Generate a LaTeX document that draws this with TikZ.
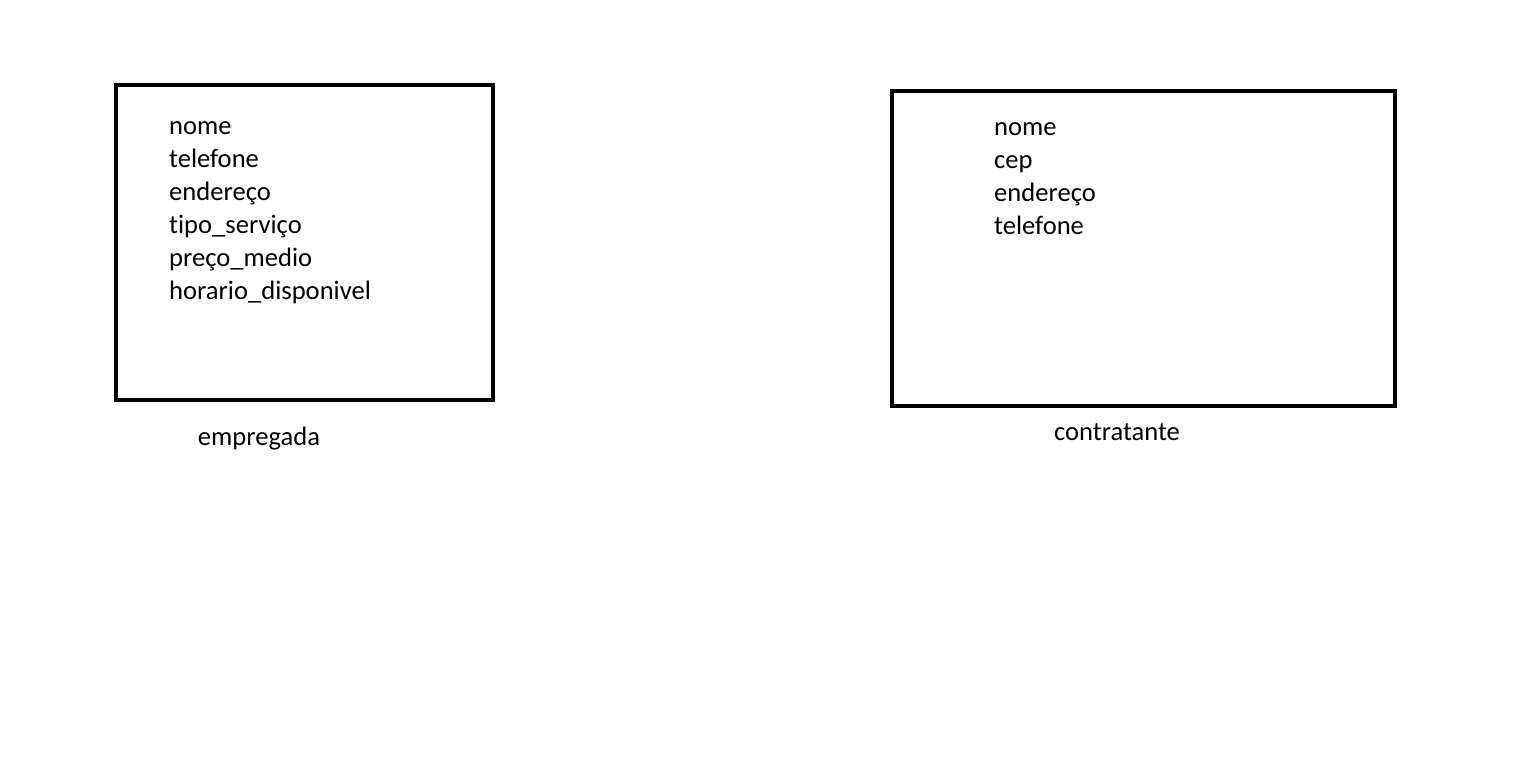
\documentclass[tikz,border=0pt]{standalone}
\usepackage{fontspec}
\setmainfont[Ligatures={NoCommon}]{Carlito}
\begin{document}
\begin{tikzpicture}[x=1pt,y=-1pt,
  box/.style={draw=black,line width=4.2pt},
  attr/.style={anchor=base west,inner sep=0pt,font=\fontsize{26.6}{32}\selectfont},
  lbl/.style={anchor=base,inner sep=0pt,font=\fontsize{26.6}{32}\selectfont}]
\useasboundingbox[fill=white] (0,0) rectangle (1535,758);
\draw[box] (116,85) rectangle (493,400);
\draw[box] (892,91) rectangle (1395,406);
\node[attr] (e1) at (169,134) {nome};
\node[attr] (e2) at (169,167) {telefone};
\node[attr] (e3) at (169,200) {endereço};
\node[attr] (e4) at (169,233) {tipo\_serviço};
\node[attr] (e5) at (169,266) {preço\_medio};
\node[attr] (e6) at (169,299) {horario\_disponivel};
\node[lbl] (le) at (259,445) {empregada};
\node[attr] (c1) at (994,135) {nome};
\node[attr] (c2) at (994,168) {cep};
\node[attr] (c3) at (994,201) {endereço};
\node[attr] (c4) at (994,234) {telefone};
\node[lbl] (lc) at (1117,440) {contratante};
\end{tikzpicture}
\end{document}
